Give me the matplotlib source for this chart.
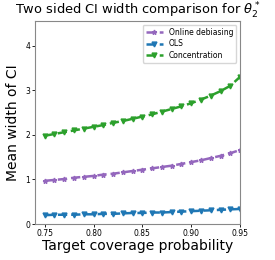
import matplotlib
matplotlib.use("Agg")
import matplotlib.pyplot as plt

# target coverage levels
coverage = [0.75, 0.76, 0.77, 0.78, 0.79, 0.80, 0.81, 0.82, 0.83, 0.84, 0.85,
            0.86, 0.87, 0.88, 0.89, 0.90, 0.91, 0.92, 0.93, 0.94, 0.95]

# mean CI widths
online = [0.97, 0.99, 1.01, 1.04, 1.06, 1.08, 1.11, 1.13, 1.16, 1.19, 1.22,
          1.25, 1.28, 1.31, 1.35, 1.39, 1.43, 1.48, 1.53, 1.59, 1.66]
ols = [0.20, 0.21, 0.21, 0.21, 0.22, 0.22, 0.23, 0.23, 0.24, 0.25, 0.25,
       0.26, 0.26, 0.27, 0.28, 0.29, 0.30, 0.31, 0.32, 0.33, 0.34]
concentration = [1.98, 2.02, 2.06, 2.10, 2.14, 2.18, 2.22, 2.27, 2.31, 2.36, 2.41,
                 2.46, 2.52, 2.58, 2.64, 2.71, 2.79, 2.88, 2.98, 3.10, 3.30]

fig = plt.figure(figsize=(2.75, 2.6), dpi=100)
ax = fig.add_axes([0.127, 0.138, 0.746, 0.781])

ax.plot(coverage, online, '--*', color='tab:purple', lw=1.8, ms=3.5, label='Online debiasing')
ax.plot(coverage, ols, '--v', color='tab:blue', lw=1.8, ms=3.5, label='OLS')
ax.plot(coverage, concentration, '--v', color='tab:green', lw=1.8, ms=3.5, label='Concentration')

ax.set_xlim(0.74, 0.95)
ax.set_ylim(0, 4.55)
ax.set_xticks([0.75, 0.80, 0.85, 0.90, 0.95])
ax.set_yticks([0, 1, 2, 3, 4])
ax.tick_params(labelsize=5.5, length=2, width=0.6, pad=1.5)
for s in ax.spines.values():
    s.set_color('#888888')
    s.set_linewidth(0.8)

ax.set_title(r'Two sided CI width comparison for $\theta_2^*$', fontsize=9.4, pad=4)
ax.set_xlabel('Target coverage probability', fontsize=10, labelpad=1)
ax.set_ylabel('Mean width of CI', fontsize=10, labelpad=4)
ax.legend(loc='upper right', fontsize=5.5, handlelength=2.2, borderpad=0.4, labelspacing=0.3)

fig.savefig('out.png', dpi=100)
